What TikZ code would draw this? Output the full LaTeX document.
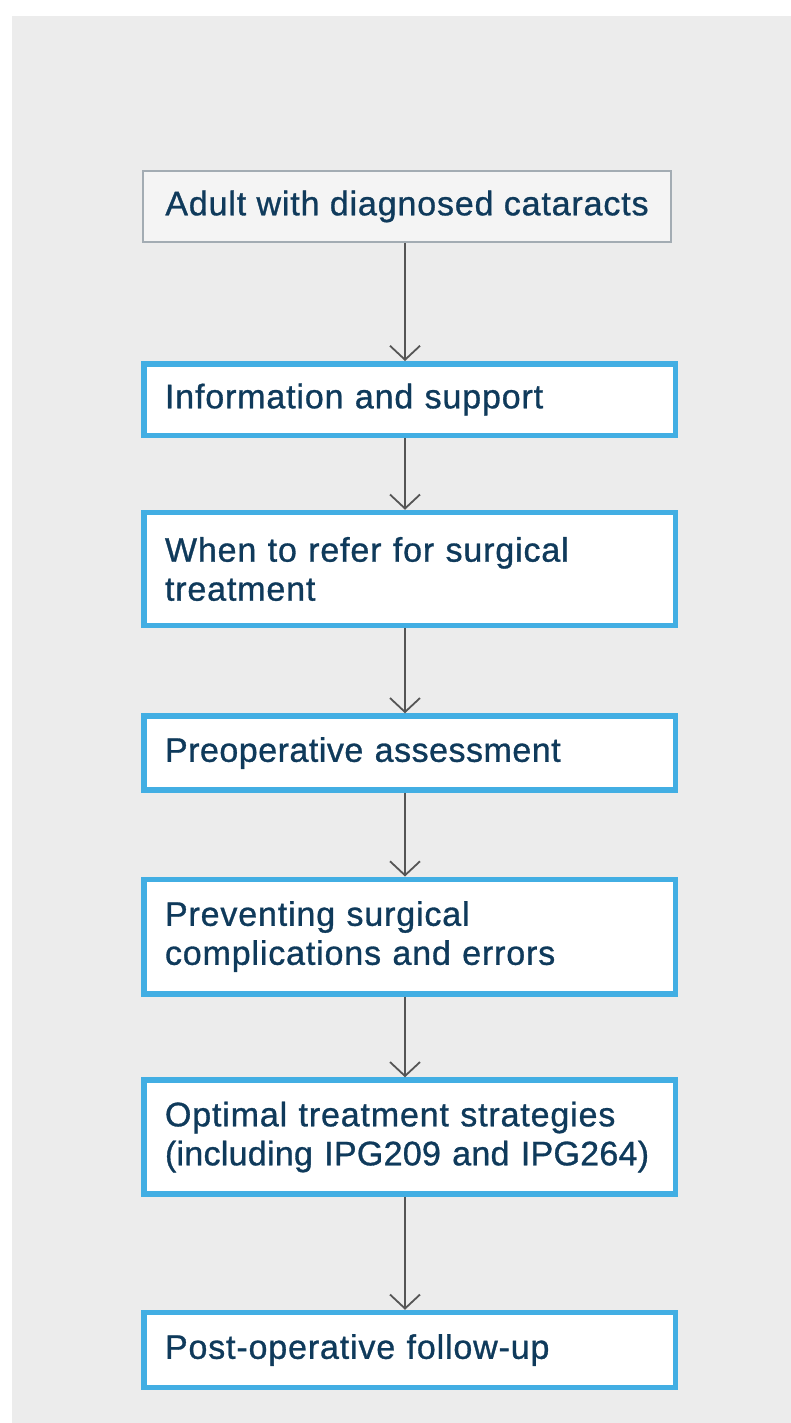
\documentclass[tikz,border=0pt]{standalone}
\usepackage{fontspec}
\setmainfont{Liberation Sans}[LetterSpace=2.5,FakeBold=0.9]
\usetikzlibrary{arrows.meta}
\definecolor{bgc}{HTML}{ECECEC}
\definecolor{bluec}{HTML}{42AEE3}
\definecolor{txtc}{HTML}{0F3A5B}
\definecolor{greyb}{HTML}{A3ACB3}
\definecolor{greyf}{HTML}{F4F4F4}
\definecolor{arrc}{HTML}{555555}
\begin{document}
\begin{tikzpicture}[x=1pt,y=-1pt,
  every node/.style={font=\fontsize{34}{39}\selectfont, text=txtc},
  bluebox/.style={draw=bluec, line width=5.5pt, fill=white, minimum width=531.5pt,
     text width=489pt, inner xsep=21.25pt, inner ysep=0pt, align=left},
  startbox/.style={draw=greyb, line width=2pt, fill=greyf, minimum width=528pt,
     minimum height=71pt, inner sep=0pt, align=center},
  conn/.style={draw=arrc, line width=1.8pt, -{Straight Barb[width=30pt,length=14pt,line width=1.8pt]}}
]
\useasboundingbox (0,0) rectangle (791,1423);
\fill[bgc] (12,16) rectangle (791,1423);
\coordinate (ax) at (405,0);
\node[startbox] (n0) at (407,206.5) {Adult with diagnosed cataracts};
\node[bluebox, minimum height=71.5pt] (n1) at (409.5,399.5) {Information and support};
\node[bluebox, minimum height=113pt] (n2) at (409.5,569) {When to refer for surgical\\treatment};
\node[bluebox, minimum height=74pt] (n3) at (409.5,753) {{\addfontfeature{LetterSpace=1.5}Preoperative assessment}};
\node[bluebox, minimum height=114.5pt] (n4) at (409.5,936.5) {Preventing surgical\\complications and errors};
\node[bluebox, minimum height=114pt] (n5) at (409.5,1137) {Optimal treatment strategies\\\mbox{\addfontfeature{LetterSpace=0.8}(including IPG209 and IPG264)}};
\node[bluebox, minimum height=75pt] (n6) at (409.5,1350) {Post-operative follow-up};
\foreach \a/\b in {n0/n1,n1/n2,n2/n3,n3/n4,n4/n5,n5/n6}
  \draw[conn] (\a.south -| ax) -- (\b.north -| ax);
\end{tikzpicture}
\end{document}
